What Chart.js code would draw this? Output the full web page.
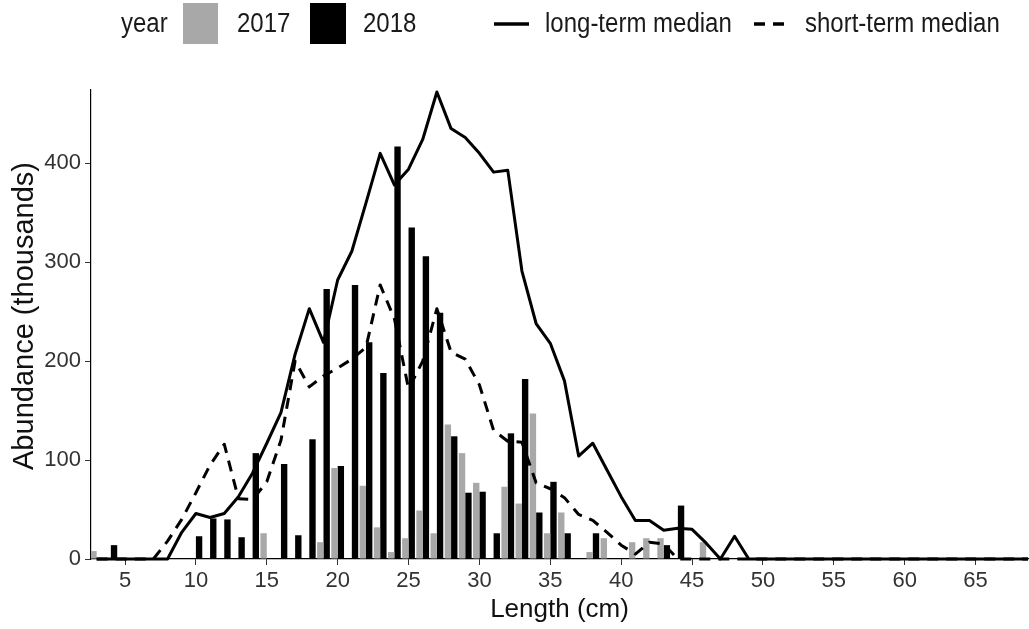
<!DOCTYPE html>
<html>
<head>
<meta charset="utf-8">
<script src="https://cdn.jsdelivr.net/npm/chart.js@4.4.1/dist/chart.umd.min.js"></script>
<style>
html,body{margin:0;padding:0;background:#fff;}
#wrap{width:1029px;height:629px;position:relative;}
canvas{display:block;}
</style>
</head>
<body>
<div id="wrap"><canvas id="c" width="1029" height="629"></canvas></div>
<script>
// ---- data ----
const barLengths = [3,4,5,6,7,8,9,10,11,12,13,14,15,16,17,18,19,20,21,22,23,24,25,26,27,28,29,30,31,32,33,34,35,36,37,38,39,40,41,42,43,44,45,46];
const abundance2017 = [8,0,0,0,0,0,0,0,0,0,0,0,26,0,0,0,17,92,0,74,32,7,21,49,26,136,107,77,0,73,56,147,26,47,0,7,21,0,17,21,21,0,0,17];
const abundance2018 = [0,14,0,0,0,0,0,23,41,40,22,107,0,96,24,121,273,94,277,219,188,417,335,306,249,124,67,68,26,127,182,47,78,26,0,26,0,0,0,0,14,54,0,0];

const lineLengths = [3,4,5,6,7,8,9,10,11,12,13,14,15,16,17,18,19,20,21,22,23,24,25,26,27,28,29,30,31,32,33,34,35,36,37,38,39,40,41,42,43,44,45,46,47,48,49,50,51,52,53,54,55,56,57,58,59,60,61,62,63,64,65,66,67,68,69,70];
const longTermMedian = [0,0,0,0,0,0,27,46,42,46,63,87,117,148,207,253,219,282,311,360,410,378,394,424,472,435,426,410,391,393,291,238,218,180,104,117,90,63,39,39,29,31,30,16,0,23,0,0,0,0,0,0,0,0,0,0,0,0,0,0,0,0,0,0,0,0,0,0];
const shortTermMedian = [0,0,0,0,0,18,40,67,95,116,61,60,78,120,200,174,185,193,202,214,277,243,172,200,253,209,202,176,130,119,118,77,71,62,45,39,27,14,5,17,15,0,0,0,0,0,0,0,0,0,0,0,0,0,0,0,0,0,0,0,0,0,0,0,0,0,0,0];

const xTicks = [5,10,15,20,25,30,35,40,45,50,55,60,65];
const yTicks = [0,100,200,300,400];
const seriesNames = ['2017','2018','long-term median','short-term median'];
const legendTitle = 'year';
const xTitle = 'Length (cm)';
const yTitle = 'Abundance (thousands)';

// ---- chart ----
const FONT = "'Liberation Sans', Arial, Helvetica, sans-serif";
Chart.defaults.font.family = FONT;

const toXY = (xs, ys) => xs.map((x, i) => ({x: x, y: ys[i]}));

const legendPlugin = {
  id: 'ggLegend',
  afterDraw(chart) {
    const ctx = chart.ctx;
    ctx.save();
    ctx.font = '24px ' + FONT;
    ctx.textBaseline = 'middle';
    ctx.textAlign = 'left';
    const cy = 24;
    const txt = (s, x) => {
      ctx.save();
      ctx.translate(x, cy);
      ctx.scale(1, 1.15);
      ctx.fillStyle = '#1a1a1a';
      ctx.fillText(s, 0, 0);
      ctx.restore();
    };
    txt(legendTitle, 121);
    ctx.fillStyle = '#a8a8a8';
    ctx.fillRect(183, 3, 35, 41);
    txt(seriesNames[0], 237);
    ctx.fillStyle = '#000000';
    ctx.fillRect(310, 3, 36, 41);
    txt(seriesNames[1], 363);
    ctx.strokeStyle = '#000';
    ctx.lineWidth = 3.5;
    ctx.lineCap = 'butt';
    ctx.beginPath(); ctx.moveTo(494, cy); ctx.lineTo(529, cy); ctx.stroke();
    txt(seriesNames[2], 545);
    ctx.setLineDash([11, 8]);
    ctx.beginPath(); ctx.moveTo(754, cy); ctx.lineTo(790, cy); ctx.stroke();
    ctx.setLineDash([]);
    txt(seriesNames[3], 805);

    // y-axis title
    ctx.save();
    ctx.translate(25, 316);
    ctx.rotate(-Math.PI / 2);
    ctx.font = '29px ' + FONT;
    ctx.fillStyle = '#111';
    ctx.textAlign = 'center';
    ctx.textBaseline = 'middle';
    ctx.fillText(yTitle, 0, 0);
    ctx.restore();
    ctx.restore();
  }
};

new Chart(document.getElementById('c'), {
  type: 'bar',
  data: {
    datasets: [
      {
        type: 'line', label: seriesNames[2], data: toXY(lineLengths, longTermMedian),
        borderColor: '#000', borderWidth: 3, pointRadius: 0, tension: 0,
        borderJoinStyle: 'round', borderCapStyle: 'butt', order: 0, fill: false,
        clip: {left: 0, top: 5, right: 0, bottom: 5}
      },
      {
        type: 'line', label: seriesNames[3], data: toXY(lineLengths, shortTermMedian),
        borderColor: '#000', borderWidth: 3, borderDash: [11, 8], pointRadius: 0, tension: 0,
        borderJoinStyle: 'round', borderCapStyle: 'butt', order: 0, fill: false,
        clip: {left: 0, top: 5, right: 0, bottom: 5}
      },
      {
        type: 'bar', label: seriesNames[0], data: toXY(barLengths, abundance2017),
        backgroundColor: '#a8a8a8', borderWidth: 0, order: 1,
        categoryPercentage: 0.9, barPercentage: 1.0
      },
      {
        type: 'bar', label: seriesNames[1], data: toXY(barLengths, abundance2018),
        backgroundColor: '#000000', borderWidth: 0, order: 1,
        categoryPercentage: 0.9, barPercentage: 1.0
      }
    ]
  },
  options: {
    responsive: false,
    animation: false,
    devicePixelRatio: 1,
    layout: { padding: { top: 90, right: 1, left: 0, bottom: 0 } },
    plugins: { legend: { display: false }, tooltip: { enabled: false } },
    scales: {
      x: {
        type: 'linear', min: 2.6, max: 68.7, offset: false,
        afterBuildTicks: (s) => { s.ticks = xTicks.map(v => ({value: v})); },
        afterFit: (s) => { s.height = 70; },
        grid: { display: true, drawOnChartArea: false, offset: false, tickLength: 6, tickColor: '#333', tickWidth: 1 },
        border: { display: true, color: '#000', width: 1.2 },
        ticks: { font: { size: 22 }, color: '#333', padding: 3, maxRotation: 0, autoSkip: false },
        title: { display: true, text: xTitle, font: { size: 26 }, color: '#111', padding: { top: 0, bottom: 4 } }
      },
      y: {
        type: 'linear', min: 0, max: 474,
        afterBuildTicks: (s) => { s.ticks = yTicks.map(v => ({value: v})); },
        afterFit: (s) => { s.width = 91; },
        grid: { display: true, drawOnChartArea: false, tickLength: 6, tickColor: '#333', tickWidth: 1 },
        border: { display: true, color: '#000', width: 1.2 },
        ticks: { font: { size: 22 }, color: '#333', padding: 4 },
        title: { display: false, text: yTitle }
      }
    }
  },
  plugins: [legendPlugin]
});
</script>
</body>
</html>
